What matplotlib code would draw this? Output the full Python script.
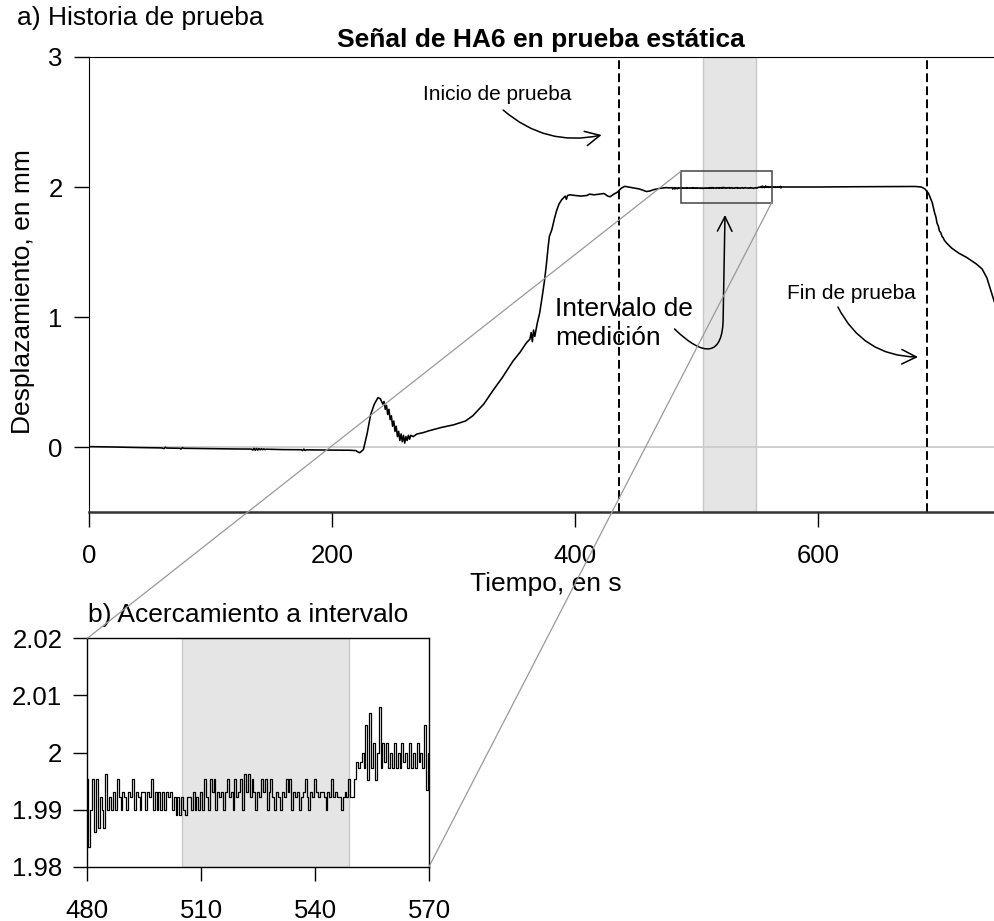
import numpy as np
import matplotlib.pyplot as plt
from matplotlib.patches import Rectangle, FancyArrowPatch, ConnectionPatch
from matplotlib.path import Path

plt.rcParams['font.family'] = ['Liberation Sans', 'DejaVu Sans']

# HA6 displacement record (s, mm) read at key points
t_before = [0, 20, 40, 60, 62, 63, 64, 75, 76, 77, 78, 100, 120, 134, 135, 136,
            137, 138, 139, 140, 141, 142, 143, 144, 145, 146, 160, 175, 176, 177,
            178, 179, 200, 215, 220, 221, 223, 226, 229, 232, 235, 238, 240, 242,
            243, 244, 245, 246, 247, 248, 249, 250, 251, 252, 253, 254, 255, 256,
            257, 258, 259, 260, 261, 262, 263, 264, 265, 267, 270, 275, 280, 290,
            300, 310, 316, 320, 325, 333, 340, 349, 355, 360, 363, 364, 365, 366,
            367, 369, 371, 373, 375, 376.5, 378, 379, 381, 383, 385, 387, 389,
            391, 392, 393, 394, 396, 400, 405, 410, 412, 416, 420, 424, 427, 429,
            432, 435, 438, 441, 444, 447, 450, 453, 456, 459, 462, 465, 470, 475,
            478]
y_before = [0.003, 0.0, -0.004, -0.007, -0.012, -0.002, -0.008, -0.010, -0.016,
            -0.004, -0.010, -0.013, -0.015, -0.016, -0.024, -0.010, -0.025,
            -0.011, -0.024, -0.012, -0.022, -0.013, -0.021, -0.014, -0.020,
            -0.017, -0.020, -0.021, -0.028, -0.016, -0.027, -0.022, -0.024,
            -0.025, -0.028, -0.036, -0.044, -0.020, 0.10, 0.25, 0.33, 0.38, 0.37,
            0.33, 0.35, 0.29, 0.32, 0.25, 0.29, 0.21, 0.24, 0.16, 0.20, 0.12,
            0.16, 0.08, 0.12, 0.05, 0.10, 0.04, 0.09, 0.03, 0.08, 0.05, 0.09,
            0.06, 0.09, 0.08, 0.10, 0.11, 0.125, 0.15, 0.17, 0.20, 0.24, 0.28,
            0.33, 0.44, 0.53, 0.66, 0.73, 0.80, 0.83, 0.88, 0.81, 0.90, 0.85,
            0.95, 1.03, 1.15, 1.28, 1.40, 1.54, 1.62, 1.67, 1.75, 1.82, 1.87,
            1.90, 1.92, 1.93, 1.905, 1.935, 1.94, 1.935, 1.93, 1.935, 1.945,
            1.94, 1.945, 1.95, 1.93, 1.925, 1.945, 1.96, 1.99, 2.005, 2.0,
            1.995, 1.99, 1.985, 1.975, 1.965, 1.97, 1.98, 1.99, 1.995, 1.993]

t_after = [575, 600, 630, 660, 680, 685, 688, 691, 694, 696, 697, 698, 699, 700,
           701, 702, 703, 704, 706, 710, 716, 722, 730, 735, 739, 742, 745]
y_after = [2.0, 2.0, 2.002, 2.003, 2.004, 2.0, 1.985, 1.95, 1.88, 1.80, 1.77,
           1.72, 1.70, 1.66, 1.65, 1.62, 1.61, 1.59, 1.567, 1.53, 1.49, 1.46,
           1.41, 1.37, 1.30, 1.21, 1.12]

# detail of the measurement window, one reading every 0.5 s from 480 s
zoom_start, zoom_step = 480.0, 0.5
zoom_mm = [
    1.9954, 1.9835, 1.9899, 1.9954, 1.9860, 1.9954, 1.9868, 1.9922, 1.9899, 1.9868,
    1.9963, 1.9899, 1.9922, 1.9899, 1.9930, 1.9899, 1.9954, 1.9922, 1.9899, 1.9930,
    1.9922, 1.9899, 1.9930, 1.9922, 1.9954, 1.9899, 1.9930, 1.9922, 1.9899, 1.9930,
    1.9930, 1.9899, 1.9930, 1.9922, 1.9954, 1.9899, 1.9930, 1.9899, 1.9930, 1.9899,
    1.9930, 1.9899, 1.9930, 1.9922, 1.9930, 1.9899, 1.9922, 1.9890, 1.9922, 1.9890,
    1.9922, 1.9899, 1.9890, 1.9922, 1.9922, 1.9899, 1.9930, 1.9899, 1.9922, 1.9899,
    1.9930, 1.9899, 1.9954, 1.9922, 1.9899, 1.9954, 1.9930, 1.9954, 1.9899, 1.9930,
    1.9922, 1.9930, 1.9899, 1.9930, 1.9954, 1.9922, 1.9930, 1.9899, 1.9954, 1.9922,
    1.9930, 1.9954, 1.9899, 1.9963, 1.9930, 1.9963, 1.9922, 1.9954, 1.9930, 1.9899,
    1.9930, 1.9922, 1.9954, 1.9930, 1.9954, 1.9899, 1.9930, 1.9954, 1.9922, 1.9899,
    1.9930, 1.9922, 1.9899, 1.9930, 1.9922, 1.9954, 1.9930, 1.9954, 1.9899, 1.9930,
    1.9922, 1.9930, 1.9899, 1.9922, 1.9930, 1.9954, 1.9922, 1.9899, 1.9930, 1.9922,
    1.9954, 1.9930, 1.9922, 1.9930, 1.9930, 1.9922, 1.9899, 1.9930, 1.9922, 1.9954,
    1.9922, 1.9930, 1.9922, 1.9922, 1.9899, 1.9922, 1.9930, 1.9922, 1.9954, 1.9922,
    1.9922, 1.9954, 1.9984, 1.9972, 1.9984, 2.0000, 1.9972, 2.0048, 1.9951, 2.0069,
    1.9972, 2.0016, 1.9951, 2.0000, 2.0080, 1.9972, 2.0016, 1.9984, 2.0016, 1.9972,
    2.0000, 1.9972, 2.0016, 1.9972, 2.0000, 1.9972, 2.0016, 1.9984, 2.0000, 1.9972,
    2.0016, 1.9972, 2.0000, 1.9972, 2.0016, 1.9984, 2.0000, 1.9972, 2.0048, 1.9935,
    2.0000,
]
zoom_t = zoom_start + zoom_step * np.arange(len(zoom_mm))

test_start, test_end = 436, 690
window = (505, 549)
zoom_box = (487.1, 561.9, 1.88, 2.12)

t_all = np.concatenate([t_before, zoom_t, t_after])
y_all = np.concatenate([y_before, zoom_mm, y_after])

W, H = 994, 921


def fx(px):
    return px / W


def fy(py):
    return 1 - py / H


fig = plt.figure(figsize=(W / 100, H / 100), dpi=100)

# ---- a) full test history
ax = fig.add_axes([fx(88.7), fy(512), (1000.3 - 88.7) / W, (512 - 57) / H])
ax.set_xlim(0, 750)
ax.set_ylim(-0.5, 3)
ax.axvspan(*window, fc='#e5e5e5', ec='#c8c8c8', lw=1, zorder=0)
ax.axhline(0, color='#cccccc', lw=1.3, zorder=1)
for tv in (test_start, test_end):
    ax.axvline(tv, color='black', lw=1.4, ls=(0, (4.5, 2.2)), zorder=2)
ax.plot(t_all, y_all, color='black', lw=1.15, zorder=3)
ax.add_patch(Rectangle((zoom_box[0], zoom_box[2]), zoom_box[1] - zoom_box[0],
                       zoom_box[3] - zoom_box[2], fill=False, ec='#444444',
                       lw=1.1, zorder=4))

ax.set_xticks([0, 200, 400, 600])
ax.set_yticks([0, 1, 2, 3])
ax.tick_params(axis='both', direction='out', length=10.8, width=1, labelsize=18.5)
ax.tick_params(axis='x', pad=12)
ax.tick_params(axis='y', pad=8)
ax.spines['right'].set_visible(False)
ax.spines['bottom'].set_linewidth(1.8)
ax.spines['bottom'].set_color('#333333')

ax.text(275.3, 2.669, 'Inicio de prueba', fontsize=15, va='baseline')
ax.annotate('', xy=(422, 2.40), xytext=(341, 2.592),
            arrowprops=dict(arrowstyle='->,head_length=0.7,head_width=0.35',
                            connectionstyle='arc3,rad=0.25', lw=1.1,
                            color='black', shrinkA=0, shrinkB=0,
                            mutation_scale=15))
ax.text(574.2, 1.136, 'Fin de prueba', fontsize=15, va='baseline')
ax.annotate('', xy=(682.3, 0.692), xytext=(616.4, 1.077),
            arrowprops=dict(arrowstyle='->,head_length=0.7,head_width=0.35',
                            connectionstyle='arc3,rad=0.3', lw=1.1,
                            color='black', shrinkA=0, shrinkB=0,
                            mutation_scale=15))
ax.text(383.6, 1.008, 'Intervalo de', fontsize=19, va='baseline', zorder=5)
ax.text(383.6, 0.785, 'medición', fontsize=19, va='baseline', zorder=5)
hook = Path([(482, 0.908), (506, 0.69), (522, 0.69), (522, 1.0), (523.5, 1.785)],
            [Path.MOVETO, Path.CURVE4, Path.CURVE4, Path.CURVE4, Path.LINETO])
ax.add_patch(FancyArrowPatch(path=hook,
                             arrowstyle='->,head_length=0.7,head_width=0.35',
                             mutation_scale=15, lw=1.1, color='black', zorder=5))

fig.text(fx(541), fy(46.7), 'Señal de HA6 en prueba estática', fontsize=19,
         fontweight='bold', ha='center', va='baseline')
fig.text(fx(16.7), fy(25), 'a) Historia de prueba', fontsize=19, va='baseline')
fig.text(fx(546), fy(591), 'Tiempo, en s', fontsize=19, ha='center', va='baseline')
fig.text(fx(23), fy(292), 'Desplazamiento, en mm', fontsize=19, rotation=90,
         ha='center', va='center')

# ---- b) zoom on the measurement window
ax2 = fig.add_axes([fx(87.3), fy(866.7), 341.7 / W, 228.4 / H])
ax2.set_xlim(480, 570)
ax2.set_ylim(1.98, 2.02)
ax2.axvspan(*window, fc='#e5e5e5', ec='#c8c8c8', lw=1, zorder=0)
ax2.plot(zoom_t, zoom_mm, color='black', lw=0.9, drawstyle='steps-mid', zorder=3)
ax2.set_xticks([480, 510, 540, 570])
ax2.set_yticks([1.98, 1.99, 2.0, 2.01, 2.02])
ax2.set_yticklabels(['1.98', '1.99', '2', '2.01', '2.02'])
ax2.tick_params(axis='both', direction='out', length=10, width=1, labelsize=18.5)
ax2.tick_params(axis='x', pad=13)
ax2.tick_params(axis='y', pad=8)
for sp in ax2.spines.values():
    sp.set_linewidth(1.0)

fig.text(fx(88.3), fy(621.7), 'b) Acercamiento a intervalo', fontsize=19,
         va='baseline')

# connector lines between the box and the detail panel
for xa, ya, xb, yb in [(zoom_box[0], zoom_box[3], 480, 2.02),
                       (zoom_box[1], zoom_box[2], 570, 1.98)]:
    fig.add_artist(ConnectionPatch(xyA=(xa, ya), coordsA=ax.transData,
                                   xyB=(xb, yb), coordsB=ax2.transData,
                                   color='#999999', lw=0.9, zorder=6))

fig.savefig('out.png', dpi=100)
